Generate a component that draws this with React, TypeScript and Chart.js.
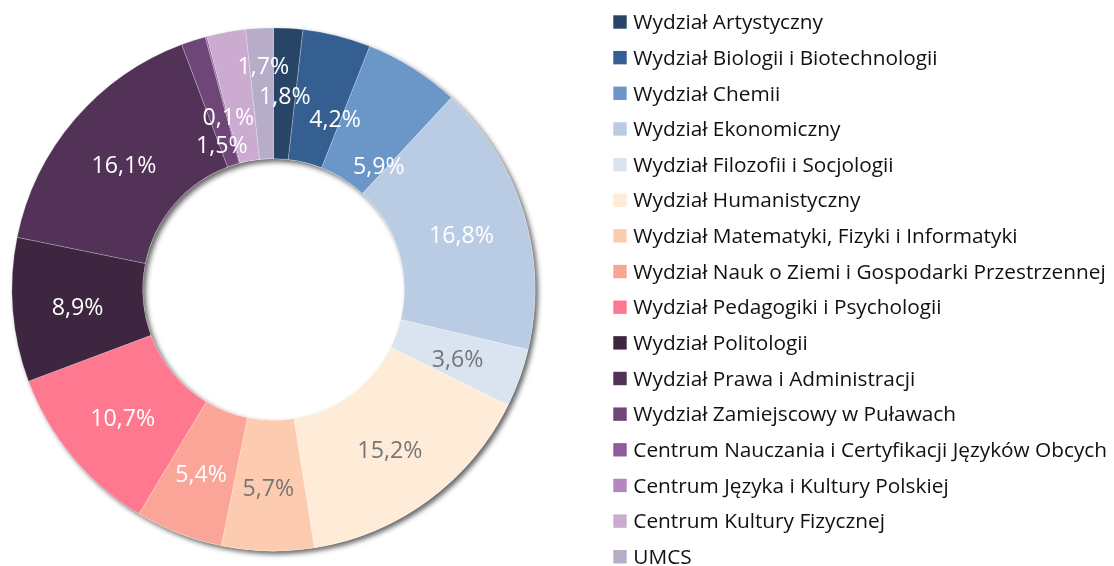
import React, { useEffect, useRef } from "react";
import { Chart, registerables } from "chart.js";

Chart.register(...registerables);

const categories = [
  "Wydział Artystyczny",
  "Wydział Biologii i Biotechnologii",
  "Wydział Chemii",
  "Wydział Ekonomiczny",
  "Wydział Filozofii i Socjologii",
  "Wydział Humanistyczny",
  "Wydział Matematyki, Fizyki i Informatyki",
  "Wydział Nauk o Ziemi i Gospodarki Przestrzennej",
  "Wydział Pedagogiki i Psychologii",
  "Wydział Politologii",
  "Wydział Prawa i Administracji",
  "Wydział Zamiejscowy w Puławach",
  "Centrum Nauczania i Certyfikacji Języków Obcych",
  "Centrum Języka i Kultury Polskiej",
  "Centrum Kultury Fizycznej",
  "UMCS",
];

const shares = [1.8, 4.2, 5.9, 16.8, 3.6, 15.2, 5.7, 5.4, 10.7, 8.9, 16.1, 1.5, 0.1, 0.0, 2.4, 1.7];

const valueLabels = [
  "1,8%", "4,2%", "5,9%", "16,8%", "3,6%", "15,2%", "5,7%", "5,4%",
  "10,7%", "8,9%", "16,1%", "1,5%", "0,1%", "", "", "1,7%",
];

const sliceColors = [
  "#284567", "#365F91", "#6B97C8", "#BACCE4", "#DAE4F1", "#FEECD9", "#FDCCB0", "#FBA498",
  "#FE7990", "#3E2640", "#523257", "#6E4677", "#8F5C9B", "#B487BD", "#CBACD0", "#B7ADC9",
];

const labelColors = [
  "#FFFFFF", "#FFFFFF", "#FFFFFF", "#FFFFFF", "#767676", "#767676", "#767676", "#FFFFFF",
  "#FFFFFF", "#FFFFFF", "#FFFFFF", "#FFFFFF", "#FFFFFF", "#FFFFFF", "#FFFFFF", "#FFFFFF",
];

// where each value label sits: fraction along its slice, and fraction of the outer radius
const labelAlong = [0.52, 0.88, 0.88, 0.513, 0.56, 0.507, 0.51, 0.51, 0.487, 0.484, 0.49, 0.15, 1.4, 0.5, 0.5, 0.575];
const labelRadius = [0.743, 0.695, 0.622, 0.748, 0.752, 0.757, 0.759, 0.758, 0.755, 0.752, 0.745, 0.586, 0.684, 0.75, 0.75, 0.858];

const LABEL_FONT = "23.2px 'Open Sans'";
const LEGEND_FONT = "20.8px 'Open Sans'";

const ringShadow = {
  id: "ringShadow",
  beforeDatasetsDraw(chart: any) {
    const meta = chart.getDatasetMeta(0);
    const arc = meta.data[0];
    if (!arc) return;
    const p = arc.getProps(["x", "y", "outerRadius", "innerRadius"], true);
    const ctx = chart.ctx;
    ctx.save();
    ctx.beginPath();
    ctx.arc(p.x, p.y, p.outerRadius, 0, Math.PI * 2);
    ctx.arc(p.x, p.y, p.innerRadius, 0, Math.PI * 2, true);
    ctx.closePath();
    ctx.shadowColor = "rgba(0,0,0,0.6)";
    ctx.shadowBlur = 5;
    ctx.shadowOffsetX = 3;
    ctx.shadowOffsetY = 3;
    ctx.fillStyle = "#ffffff";
    ctx.fill();
    ctx.restore();
  },
};

const valueLabelPlugin = {
  id: "valueLabels",
  afterDatasetsDraw(chart: any) {
    const meta = chart.getDatasetMeta(0);
    const ctx = chart.ctx;
    ctx.save();
    ctx.font = LABEL_FONT;
    ctx.textAlign = "center";
    ctx.textBaseline = "alphabetic";
    meta.data.forEach((arc: any, i: number) => {
      const text = valueLabels[i];
      if (!text) return;
      const p = arc.getProps(["x", "y", "startAngle", "endAngle", "outerRadius"], true);
      const a = p.startAngle + labelAlong[i] * (p.endAngle - p.startAngle);
      const r = labelRadius[i] * p.outerRadius;
      const x = p.x + Math.cos(a) * r;
      const y = p.y + Math.sin(a) * r;
      ctx.fillStyle = labelColors[i];
      ctx.fillText(text, x, y + 8.3);
    });
    ctx.restore();
  },
};

const legendPlugin = {
  id: "sideLegend",
  afterDraw(chart: any) {
    const ctx = chart.ctx;
    const labels = chart.data.labels as string[];
    const colors = chart.data.datasets[0].backgroundColor as string[];
    ctx.save();
    ctx.font = LEGEND_FONT;
    ctx.textAlign = "left";
    ctx.textBaseline = "alphabetic";
    labels.forEach((lab, i) => {
      const cy = 22 + i * 35.65;
      ctx.fillStyle = colors[i];
      ctx.fillRect(613.3, cy - 6.7, 13.4, 13.4);
      ctx.fillStyle = "#111111";
      ctx.fillText(lab, 633.3, cy + 7.2);
    });
    ctx.restore();
  },
};

export default function App() {
  const ref = useRef<HTMLCanvasElement | null>(null);
  useEffect(() => {
    if (!ref.current) return;
    const chart = new Chart(ref.current, {
      type: "doughnut",
      data: {
        labels: categories,
        datasets: [
          {
            data: shares,
            backgroundColor: sliceColors,
            borderColor: "rgba(255,255,255,0.3)",
            borderWidth: 0.75,
          },
        ],
      },
      options: {
        responsive: false,
        animation: false,
        cutout: "50%",
        layout: { padding: { left: 11.5, top: 27.5, right: 578.5, bottom: 14.5 } },
        plugins: {
          legend: { display: false },
          tooltip: { enabled: false },
          title: { display: false },
        },
      },
      plugins: [ringShadow, valueLabelPlugin, legendPlugin],
    });
    return () => chart.destroy();
  }, []);
  return (
    <div style={{ position: "fixed", left: 0, top: 0, width: 1114, height: 566, background: "#fff" }}>
      <canvas ref={ref} width={1114} height={566} />
    </div>
  );
}
